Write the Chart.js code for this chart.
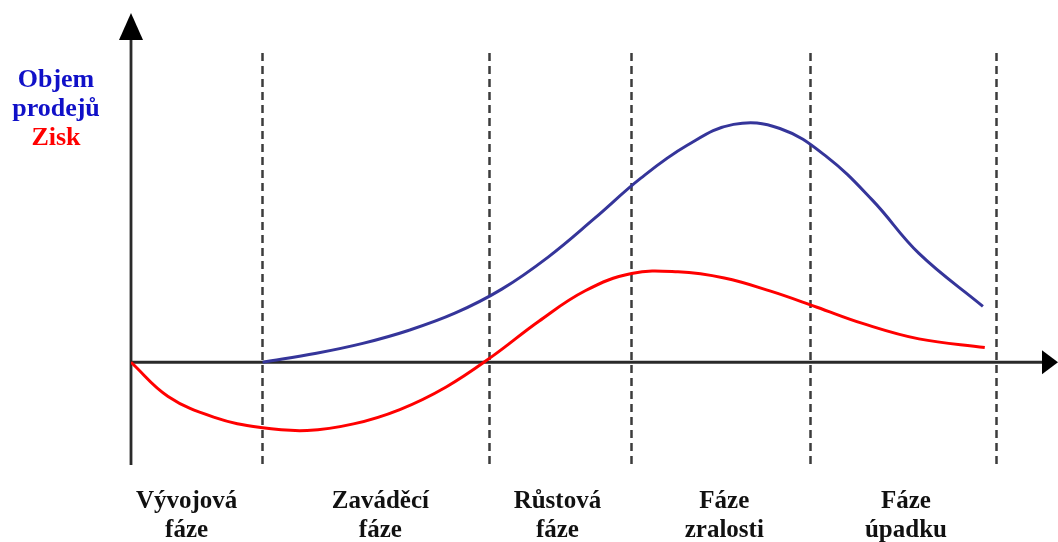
<!DOCTYPE html>
<html>
<head>
<meta charset="utf-8">
<script src="https://cdn.jsdelivr.net/npm/chart.js@4/dist/chart.umd.min.js"></script>
<style>
  html, body { margin: 0; padding: 0; background: #fff; }
  #wrap { width: 1058px; height: 542px; position: relative; }
</style>
</head>
<body>
<div id="wrap"><canvas id="c" width="1058" height="542"></canvas></div>
<script>
// Product life cycle: time runs 0..100, value axis -25..85
const salesTime   = [14.2, 20,  25,  30,  35,   40,   45,   50,   55,   60,   65,   70,   75,   80,   85,   91.9];
const salesValue  = [0,    2.2, 4.6, 7.8, 12.0, 17.8, 25.6, 35.0, 44.8, 52.8, 57.9, 56.9, 50.1, 39.4, 26.5, 13.6];

const profitTime  = [0, 4,    9,     14,    19,    24,    29,    34,   39,  44,   49,   54,   59,   64,   69,   74,   79,  85,  92.1];
const profitValue = [0, -8.3, -13.4, -15.9, -16.6, -15.0, -11.5, -6.0, 1.5, 10.0, 17.4, 21.6, 22.0, 20.5, 17.3, 13.4, 9.4, 5.7, 3.6];

// phase boundaries and phase name positions on the time axis
const phaseBounds = [14.1, 38.6, 53.9, 73.2, 93.3];
const phaseLabelPos = [6.0, 26.9, 46.0, 64.0, 83.6];
const phaseLabels = [
  ['Vývojová', 'fáze'],
  ['Zaváděcí', 'fáze'],
  ['Růstová', 'fáze'],
  ['Fáze', 'zralosti'],
  ['Fáze', 'úpadku']
];

const axisTitle = [
  { text: 'Objem', color: '#1010c8' },
  { text: 'prodejů', color: '#1010c8' },
  { text: 'Zisk', color: '#ff0000' }
];

const toPoints = (xs, ys) => xs.map((x, i) => ({ x, y: ys[i] }));

const lifecycleDecor = {
  id: 'lifecycleDecor',
  beforeDatasetsDraw(chart) {
    const { ctx, scales: { x, y } } = chart;
    const x0 = x.getPixelForValue(0);
    const y0 = y.getPixelForValue(0);
    const top = chart.chartArea.top;
    const bottom = chart.chartArea.bottom;
    ctx.save();

    // dashed phase boundaries
    ctx.strokeStyle = '#3c3c3c';
    ctx.lineWidth = 2.5;
    ctx.setLineDash([8, 5]);
    phaseBounds.forEach(b => {
      const px = Math.round(x.getPixelForValue(b)) + 0.5;
      ctx.beginPath();
      ctx.moveTo(px, 53);
      ctx.lineTo(px, bottom);
      ctx.stroke();
    });
    ctx.setLineDash([]);

    // axes
    ctx.strokeStyle = '#2a2a2a';
    ctx.fillStyle = '#000';
    ctx.lineWidth = 2.8;
    ctx.beginPath();
    ctx.moveTo(x0, bottom);
    ctx.lineTo(x0, top + 26);
    ctx.stroke();
    ctx.beginPath();
    ctx.moveTo(x0, y0);
    ctx.lineTo(chart.chartArea.right - 16, y0);
    ctx.stroke();

    // arrow heads
    ctx.beginPath();
    ctx.moveTo(x0, top);
    ctx.lineTo(x0 - 12, top + 27);
    ctx.lineTo(x0 + 12, top + 27);
    ctx.closePath();
    ctx.fill();
    const r = chart.chartArea.right;
    ctx.beginPath();
    ctx.moveTo(r, y0);
    ctx.lineTo(r - 16, y0 - 12);
    ctx.lineTo(r - 16, y0 + 12);
    ctx.closePath();
    ctx.fill();

    // phase names
    ctx.font = 'bold 25px "Liberation Serif", "Times New Roman", serif';
    ctx.fillStyle = '#111';
    ctx.textAlign = 'center';
    ctx.textBaseline = 'alphabetic';
    phaseLabels.forEach((lines, i) => {
      const px = x.getPixelForValue(phaseLabelPos[i]);
      lines.forEach((t, j) => ctx.fillText(t, px, 508 + j * 29));
    });

    // value axis title
    ctx.font = 'bold 26px "Liberation Serif", "Times New Roman", serif';
    axisTitle.forEach((l, i) => {
      ctx.fillStyle = l.color;
      ctx.fillText(l.text, 56, 87 + i * 29);
    });
    ctx.restore();
  }
};

new Chart(document.getElementById('c'), {
  type: 'line',
  data: {
    datasets: [
      {
        label: 'Objem prodejů',
        data: toPoints(salesTime, salesValue),
        borderColor: '#35359a',
        borderWidth: 3,
        pointRadius: 0,
        tension: 0.4,
        fill: false
      },
      {
        label: 'Zisk',
        data: toPoints(profitTime, profitValue),
        borderColor: '#ff0000',
        borderWidth: 3,
        pointRadius: 0,
        tension: 0.4,
        fill: false
      }
    ]
  },
  options: {
    responsive: false,
    animation: false,
    layout: { padding: { left: 131, right: 0, top: 13, bottom: 77 } },
    plugins: { legend: { display: false }, tooltip: { enabled: false } },
    scales: {
      x: { type: 'linear', min: 0, max: 100, display: false },
      y: { type: 'linear', min: -25, max: 85, display: false }
    }
  },
  plugins: [lifecycleDecor]
});
</script>
</body>
</html>
